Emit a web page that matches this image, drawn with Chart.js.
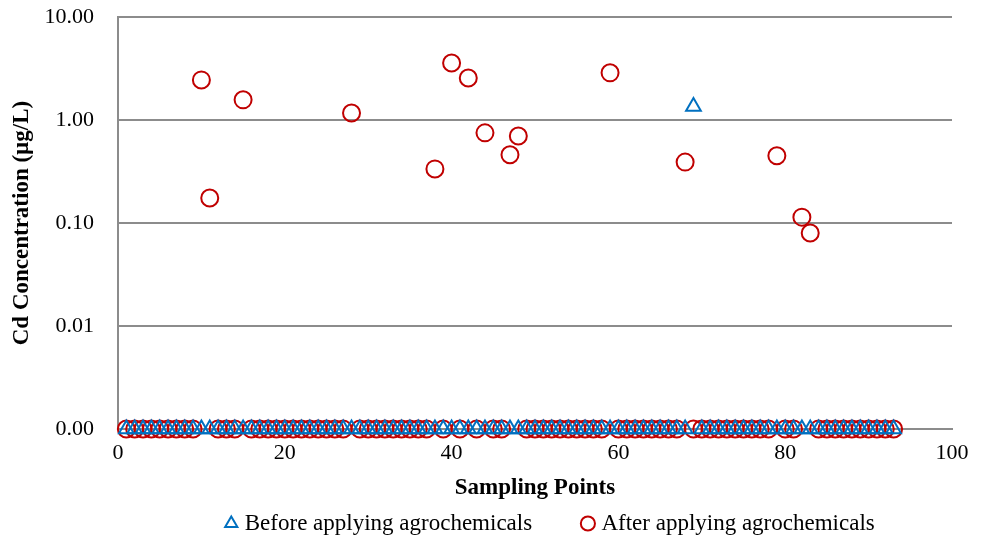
<!DOCTYPE html>
<html>
<head>
<meta charset="utf-8">
<script src="https://cdn.jsdelivr.net/npm/chart.js@4/dist/chart.umd.min.js"></script>
<style>
  body { margin: 0; background: #fff; }
  #wrap { width: 984px; height: 538px; }
</style>
</head>
<body>
<div id="wrap"><canvas id="myChart" width="984" height="538"></canvas></div>
<script>
// sampling points 1..93, values below detection are plotted at 0.001 (shown as 0.00)
const samplePoints = Array.from({ length: 93 }, (_, i) => i + 1);
const floorValue = 0.001;

// before applying agrochemicals: only one detection
const beforeHits = { 69: 1.35 };

// after applying agrochemicals
const afterHits = {
  10: 2.45, 11: 0.175, 15: 1.57, 28: 1.17, 38: 0.335, 40: 3.58, 42: 2.56,
  44: 0.75, 47: 0.46, 48: 0.70, 59: 2.87, 68: 0.39, 79: 0.45, 82: 0.114, 83: 0.080
};

const yTicks = [0.001, 0.01, 0.1, 1, 10];
const xTicks = [0, 20, 40, 60, 80, 100];

const beforeData = samplePoints.map(p => ({ x: p, y: beforeHits[p] || floorValue }));
const afterData = samplePoints.map(p => ({ x: p, y: afterHits[p] || floorValue }));

const serif = '"Liberation Serif", "Times New Roman", serif';

// legend sits a bit right of centre in the original
const legendShift = {
  id: 'legendShift',
  afterLayout(chart) {
    chart.legend.left += 17;
    chart.legend.right += 17;
  }
};

const ctx = document.getElementById('myChart').getContext('2d');
new Chart(ctx, {
  type: 'scatter',
  data: {
    datasets: [
      {
        label: 'Before applying agrochemicals',
        data: beforeData,
        pointStyle: 'triangle',
        pointRadius: 8.5,
        pointBorderWidth: 2,
        borderColor: '#0070c0',
        backgroundColor: 'rgba(0,0,0,0)',
        clip: false
      },
      {
        label: 'After applying agrochemicals',
        data: afterData,
        pointStyle: 'circle',
        pointRadius: 8.5,
        pointBorderWidth: 2,
        borderColor: '#c00000',
        backgroundColor: 'rgba(0,0,0,0)',
        clip: false
      }
    ]
  },
  plugins: [legendShift],
  options: {
    responsive: false,
    animation: false,
    layout: { padding: { left: 4, right: 32, top: 17, bottom: -7 } },
    plugins: {
      legend: {
        position: 'bottom',
        fullSize: false,
        labels: {
          usePointStyle: true,
          boxHeight: 10,
          boxWidth: 4,
          color: '#000',
          font: { family: serif, size: 23, lineHeight: 1.05 },
          padding: 2,
          generateLabels: chart => {
            const items = Chart.defaults.plugins.legend.labels.generateLabels(chart);
            // wider gap after the first entry
            items[0].text += '\u2003\u2003\u2005';
            return items;
          }
        }
      },
      tooltip: { enabled: false }
    },
    scales: {
      x: {
        type: 'linear',
        min: 0,
        max: 100,
        afterBuildTicks: axis => { axis.ticks = xTicks.map(v => ({ value: v })); },
        afterFit: axis => {
          axis.height = 81;
          axis.paddingLeft = 0;
          axis.paddingRight = 0;
        },
        grid: { display: false, drawTicks: false },
        border: { color: '#8c8c8c', width: 2 },
        ticks: { color: '#000', font: { family: serif, size: 22 }, padding: 11 },
        title: {
          display: true,
          text: 'Sampling Points',
          color: '#000',
          font: { family: serif, size: 23, weight: 'bold' },
          padding: { top: 7, bottom: 8 }
        }
      },
      y: {
        type: 'logarithmic',
        min: 0.001,
        max: 10,
        afterBuildTicks: axis => { axis.ticks = yTicks.map(v => ({ value: v })); },
        afterFit: axis => {
          axis.width = 114;
          axis.paddingTop = 11;
          axis.paddingBottom = 11;
        },
        grid: { color: '#8c8c8c', lineWidth: 2, drawTicks: false },
        border: { color: '#8c8c8c', width: 2 },
        ticks: {
          color: '#000',
          font: { family: serif, size: 22 },
          padding: 24,
          callback: v => Number(v).toFixed(2)
        },
        title: {
          display: true,
          text: 'Cd Concentration (µg/L)',
          color: '#000',
          font: { family: serif, size: 23, weight: 'bold' },
          padding: { top: 4, bottom: 2 }
        }
      }
    }
  }
});
</script>
</body>
</html>
